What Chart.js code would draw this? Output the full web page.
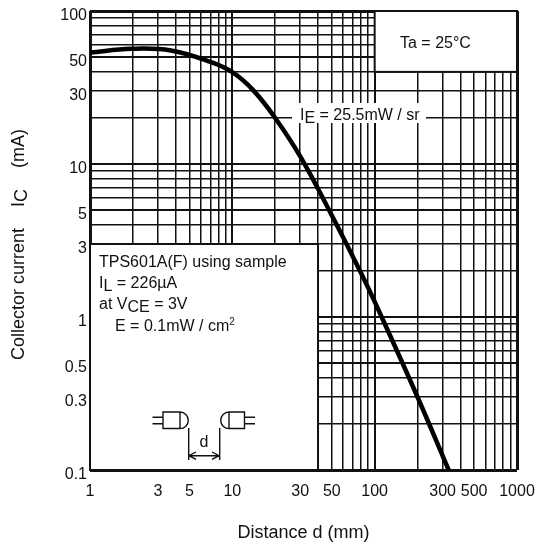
<!DOCTYPE html>
<html>
<head>
<meta charset="utf-8">
<script src="https://cdn.jsdelivr.net/npm/chart.js@4/dist/chart.umd.min.js"></script>
<style>
  html, body { margin: 0; padding: 0; background: #fff; }
  canvas { display: block; }
</style>
</head>
<body>
<canvas id="chart" width="536" height="551"></canvas>
<script>
// valeurs
const distance = [1, 1.95, 3.7, 7.1, 10, 14, 20, 30, 51, 81, 112, 200, 331];
const collector = [53.5, 56.6, 55.2, 46.3, 39.8, 30.4, 20, 11.2, 4.45, 1.9, 1, 0.3, 0.1];

const xGrid = [1, 2, 3, 4, 5, 6, 7, 8, 9, 10, 20, 30, 40, 50, 60, 70, 80, 90, 100,
    200, 300, 400, 500, 600, 700, 800, 900, 1000];
const yGrid = [0.1, 0.2, 0.3, 0.4, 0.5, 0.6, 0.7, 0.8, 0.9, 1, 2, 3, 4, 5, 6, 7, 8, 9, 10,
    20, 30, 40, 50, 60, 70, 80, 90, 100];
const xLabels = [1, 3, 5, 10, 30, 50, 100, 300, 500, 1000];
const yLabels = [0.1, 0.3, 0.5, 1, 3, 5, 10, 30, 50, 100];
const xHeavy = [1, 10, 100, 1000];
const yHeavy = [0.1, 0.5, 1, 5, 10, 50, 100];

// zones blanches en unites du graphique [x1, x2, y1, y2]
const noteBox = [1, 40, 0.1, 3];
const tempBox = [100, 1000, 40, 100];

const FAMILY = '"Liberation Sans", Arial, sans-serif';
const INK = "#111";

function drawRuns(ctx, x, y, runs, size) {
    const base = size || 16;
    ctx.textAlign = "left";
    ctx.textBaseline = "alphabetic";
    ctx.fillStyle = INK;
    runs.forEach(run => {
        const text = run[0];
        const dy = run[1] || 0;
        ctx.font = (run[2] || base) + "px " + FAMILY;
        ctx.fillText(text, x, y + dy);
        x += ctx.measureText(text).width;
    });
}

function whiteBox(ctx, chart, box) {
    const sx = chart.scales.x, sy = chart.scales.y;
    const x1 = sx.getPixelForValue(box[0]), x2 = sx.getPixelForValue(box[1]);
    const y1 = sy.getPixelForValue(box[3]), y2 = sy.getPixelForValue(box[2]);
    ctx.fillStyle = "#fff";
    ctx.strokeStyle = INK;
    ctx.lineWidth = 2;
    ctx.fillRect(x1, y1, x2 - x1, y2 - y1);
    ctx.strokeRect(x1, y1, x2 - x1, y2 - y1);
}

function drawSensor(ctx) {
    ctx.strokeStyle = INK;
    ctx.lineWidth = 1.4;
    ctx.beginPath();
    // emetteur
    ctx.rect(163, 412, 17, 16.5);
    ctx.moveTo(180, 412);
    ctx.arc(180, 420.3, 8.3, -Math.PI / 2, Math.PI / 2);
    ctx.moveTo(152.5, 417.3); ctx.lineTo(163, 417.3);
    ctx.moveTo(152.5, 423.7); ctx.lineTo(163, 423.7);
    // recepteur
    ctx.rect(229, 412, 15.5, 16.5);
    ctx.moveTo(229, 412);
    ctx.arc(229, 420.3, 8.3, -Math.PI / 2, Math.PI / 2, true);
    ctx.moveTo(244.5, 417.3); ctx.lineTo(255, 417.3);
    ctx.moveTo(244.5, 423.7); ctx.lineTo(255, 423.7);
    // cote d
    ctx.moveTo(188.7, 428); ctx.lineTo(188.7, 460);
    ctx.moveTo(219.7, 428); ctx.lineTo(219.7, 460);
    ctx.moveTo(189, 455.7); ctx.lineTo(219, 455.7);
    ctx.moveTo(196, 452); ctx.lineTo(189, 455.7); ctx.lineTo(196, 459.4);
    ctx.moveTo(212, 452); ctx.lineTo(219, 455.7); ctx.lineTo(212, 459.4);
    ctx.stroke();
    drawRuns(ctx, 199.5, 447, [["d"]]);
}

const notesPlugin = {
    id: "notes",
    beforeDatasetsDraw(chart) {
        const ctx = chart.ctx;
        ctx.save();
        whiteBox(ctx, chart, noteBox);
        whiteBox(ctx, chart, tempBox);
        ctx.fillStyle = "#fff";
        ctx.fillRect(292, 103, 134, 20);
        ctx.restore();
    },
    afterDraw(chart) {
        const ctx = chart.ctx;
        ctx.save();
        drawRuns(ctx, 400, 48, [["Ta = 25°C"]]);
        drawRuns(ctx, 300, 120, [["I"], ["E", 3], [" = 25.5mW / sr"]]);
        drawRuns(ctx, 99, 267, [["TPS601A(F) using sample"]]);
        drawRuns(ctx, 99, 288, [["I"], ["L", 3], [" = 226µA"]]);
        drawRuns(ctx, 99, 309, [["at V"], ["CE", 3], [" = 3V"]]);
        drawRuns(ctx, 115, 331, [["E = 0.1mW / cm"], ["2", -6, 10]]);
        drawSensor(ctx);
        // titre vertical avec indice
        ctx.translate(24, 360);
        ctx.rotate(-Math.PI / 2);
        drawRuns(ctx, 0, 0, [["Collector current"]], 18);
        drawRuns(ctx, 153, 0, [["I"], ["C", 3]], 18);
        drawRuns(ctx, 192, 0, [["(mA)"]], 18);
        ctx.restore();
    }
};

new Chart(document.getElementById("chart"), {
    type: "line",
    plugins: [notesPlugin],
    data: {
        datasets: [{
            data: distance.map((d, i) => ({x: d, y: collector[i]})),
            borderColor: "#000",
            borderWidth: 4.5,
            pointRadius: 0,
            tension: 0.4,
            fill: false,
        }]
    },
    options: {
        responsive: false,
        animation: false,
        layout: {padding: {top: 11, right: 19, bottom: 0, left: 0}},
        plugins: {legend: {display: false}, tooltip: {enabled: false}},
        scales: {
            x: {
                type: "logarithmic",
                min: 1,
                max: 1000,
                afterBuildTicks: scale => { scale.ticks = xGrid.map(v => ({value: v})); },
                afterFit: scale => {
                    scale.height = 81;
                    scale.paddingLeft = 0;
                    scale.paddingRight = 0;
                },
                ticks: {
                    autoSkip: false,
                    maxRotation: 0,
                    padding: 12,
                    color: INK,
                    font: {family: FAMILY, size: 16},
                    callback: v => xLabels.includes(v) ? String(v) : "",
                },
                grid: {
                    drawTicks: false,
                    color: INK,
                    lineWidth: c => c.tick && xHeavy.includes(c.tick.value) ? (c.tick.value === 1 || c.tick.value === 1000 ? 3 : 2) : 1.5,
                },
                border: {display: false},
                title: {
                    display: true,
                    text: "Distance d (mm)",
                    color: INK,
                    font: {family: FAMILY, size: 18},
                    padding: {top: 0, bottom: 7},
                },
            },
            y: {
                type: "logarithmic",
                min: 0.1,
                max: 100,
                afterBuildTicks: scale => { scale.ticks = yGrid.map(v => ({value: v})); },
                afterFit: scale => {
                    scale.width = 90;
                    scale.paddingTop = 0;
                    scale.paddingBottom = 0;
                },
                ticks: {
                    autoSkip: false,
                    padding: 3,
                    labelOffset: 5,
                    color: INK,
                    font: {family: FAMILY, size: 16},
                    callback: v => yLabels.includes(v) ? String(v) : "",
                },
                grid: {
                    drawTicks: false,
                    color: INK,
                    lineWidth: c => c.tick && yHeavy.includes(c.tick.value) ? (c.tick.value === 0.1 || c.tick.value === 100 ? 3 : 2) : 1.5,
                },
                border: {display: false},
            },
        },
    },
});
</script>
</body>
</html>
